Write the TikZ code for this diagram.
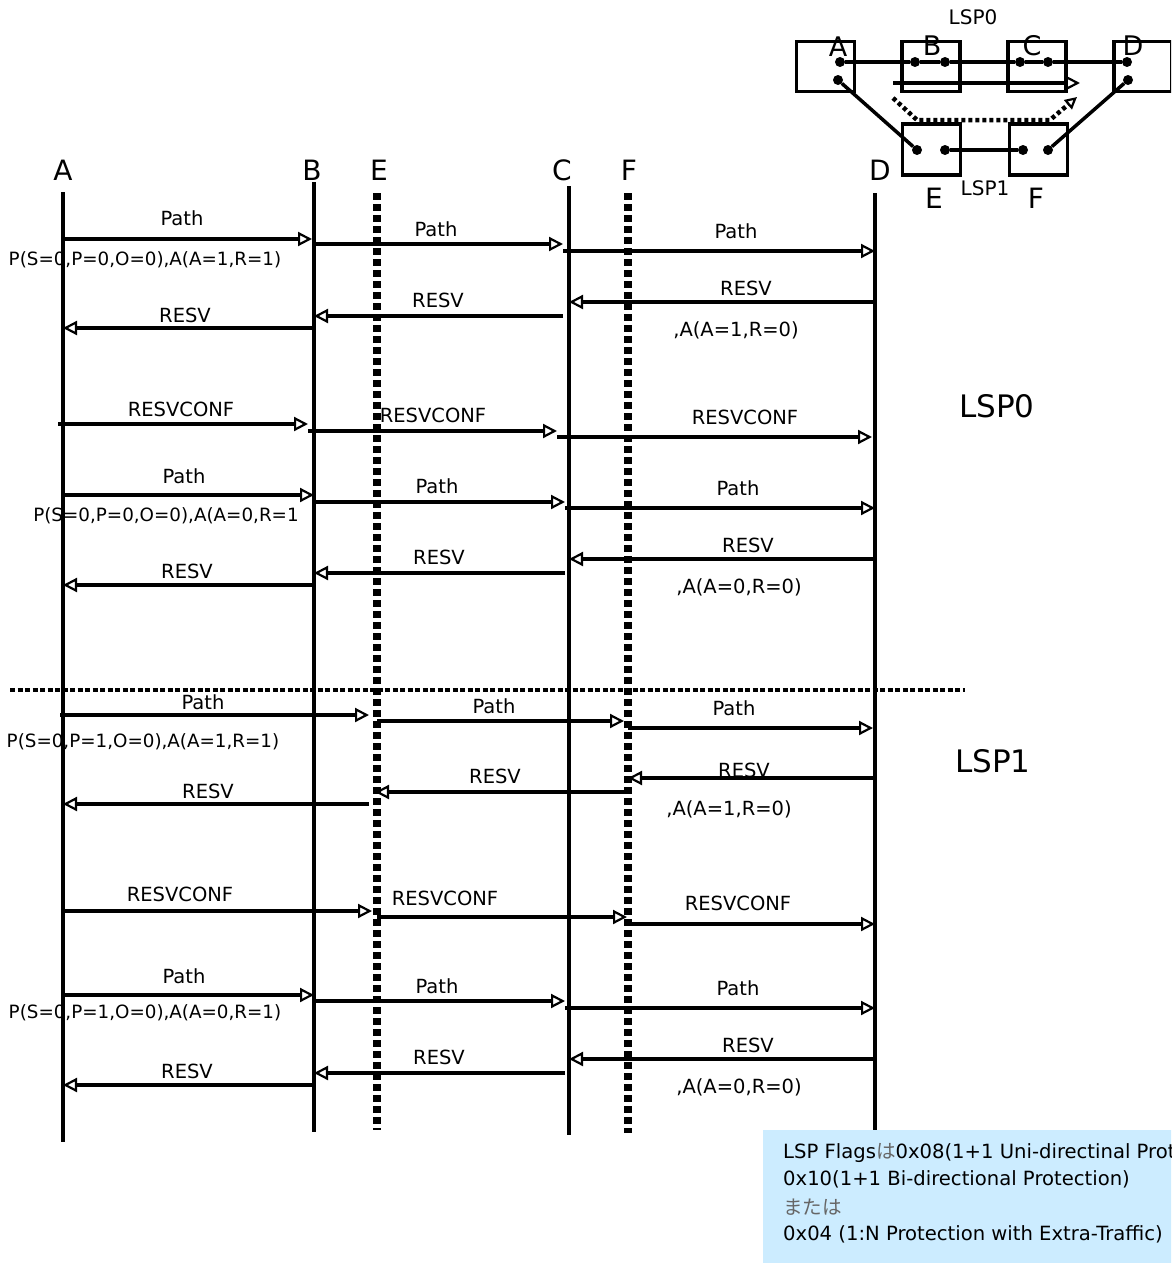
\documentclass[tikz,border=0pt]{standalone}
\usepackage{fontspec}
\setmainfont{DejaVu Sans}
\newfontfamily\jpfont{Noto Sans CJK JP}
\usetikzlibrary{arrows.meta,calc}
\definecolor{boxblue}{RGB}{204,236,255}
\begin{document}
\begin{tikzpicture}[x=1pt,y=-1pt,
  lbl/.style={inner sep=0pt,font=\fontsize{19.5}{22}\selectfont},
  plbl/.style={inner sep=0pt,font=\fontsize{18.3}{21}\selectfont},
  big/.style={inner sep=0pt,font=\fontsize{28}{30}\selectfont},
  lsplbl/.style={inner sep=0pt,font=\fontsize{31}{34}\selectfont},
  notetxt/.style={inner sep=0pt,anchor=west,font=\fontsize{19.6}{22}\selectfont},
  lifeline/.style={line width=4.5pt},
  dlifeline/.style={line width=8pt,dash pattern=on 7pt off 4pt},
  sepline/.style={line width=4.5pt,dash pattern=on 5pt off 2.5pt},
  msg/.style={line width=4.5pt,-{Triangle[open,length=14pt,width=14pt,line width=2.2pt]}},
  nbox/.style={draw,line width=3.5pt,minimum width=58pt,minimum height=50pt,inner sep=0pt},
  port/.style={circle,fill,inner sep=0pt,minimum size=10pt},
  link/.style={line width=3.5pt},
  nlbl/.style={inner sep=0pt,font=\fontsize{27}{29}\selectfont},
  slbl/.style={inner sep=0pt,font=\fontsize{20}{23}\selectfont},
]
\useasboundingbox (0,0) rectangle (1171,1263);

% ---------- lifelines ----------
\coordinate (xA) at (63,0);
\coordinate (xB) at (314,0);
\coordinate (xE) at (377,0);
\coordinate (xC) at (569,0);
\coordinate (xF) at (628,0);
\coordinate (xD) at (875,0);

\node[big] (lA) at (63,170) {A};
\node[big] (lB) at (312,170) {B};
\node[big] (lE) at (379,170) {E};
\node[big] (lC) at (562,170) {C};
\node[big] (lF) at (629,170) {F};
\node[big] (lD) at (880,170) {D};

\coordinate (A0) at (63,192);  \coordinate (A1) at (63,1142);
\coordinate (B0) at (314,182); \coordinate (B1) at (314,1132);
\coordinate (E0) at (377,193); \coordinate (E1) at (377,1130);
\coordinate (C0) at (569,186); \coordinate (C1) at (569,1135);
\coordinate (F0) at (628,193); \coordinate (F1) at (628,1133);
\coordinate (D0) at (875,193); \coordinate (D1) at (875,1130);

\draw[lifeline] (A0) -- (A1);
\draw[lifeline] (B0) -- (B1);
\draw[lifeline] (C0) -- (C1);
\draw[lifeline] (D0) -- (D1);
\draw[dlifeline] (E0) -- (E1);
\draw[dlifeline] (F0) -- (F1);

% separator
\coordinate (s0) at (10,690);
\coordinate (s1) at (965,690);
\draw[sepline] (s0) -- (s1);

% ---------- LSP0 ----------
\draw[msg] ($(xA)+(0,239)$) -- ($(xB)+(-2,239)$);
\draw[msg,line width=3.5pt] ($(xB)+(0,244)$) -- ($(xC)+(-6,244)$);
\draw[msg] ($(xC)+(-6,251)$) -- ($(xD)+(0,251)$);
\draw[msg] ($(xD)+(0,302)$) -- ($(xC)+(0,302)$);
\draw[msg] ($(xC)+(-6,316)$) -- ($(xB)+(0,316)$);
\draw[msg,line width=3.5pt] ($(xB)+(0,328)$) -- ($(xA)+(0,328)$);

\node[lbl] (t1) at (182,218) {Path};
\node[lbl] (t2) at (436,229) {Path};
\node[lbl] (t3) at (736,231) {Path};
\node[lbl] (t4) at (746,288) {RESV};
\node[lbl] (t5) at (438,300) {RESV};
\node[lbl] (t6) at (185,315) {RESV};
\node[plbl] (p1) at (145,260) {P(S=0,P=0,O=0),A(A=1,R=1)};
\node[lbl] (a1) at (736,330) {,A(A=1,R=0)};

\draw[msg] ($(xA)+(-5,424)$) -- ($(xB)+(-6,424)$);
\draw[msg,line width=3.5pt] ($(xB)+(-6,431)$) -- ($(xC)+(-12,431)$);
\draw[msg] ($(xC)+(-12,437)$) -- ($(xD)+(-3,437)$);
\node[lbl] (t7) at (181,409) {RESVCONF};
\node[lbl] (t8) at (433,415) {RESVCONF};
\node[lbl] (t9) at (745,417) {RESVCONF};

\draw[msg] ($(xA)+(0,495)$) -- ($(xB)+(0,495)$);
\draw[msg,line width=3.5pt] ($(xB)+(0,502)$) -- ($(xC)+(-4,502)$);
\draw[msg,line width=3.5pt] ($(xC)+(-4,508)$) -- ($(xD)+(0,508)$);
\draw[msg] ($(xD)+(0,559)$) -- ($(xC)+(0,559)$);
\draw[msg] ($(xC)+(-4,573)$) -- ($(xB)+(0,573)$);
\draw[msg,line width=3.5pt] ($(xB)+(0,585)$) -- ($(xA)+(0,585)$);
\node[lbl] (t10) at (184,476) {Path};
\node[lbl] (t11) at (437,486) {Path};
\node[lbl] (t12) at (738,488) {Path};
\node[lbl] (t13) at (748,545) {RESV};
\node[lbl] (t14) at (439,557) {RESV};
\node[lbl] (t15) at (187,571) {RESV};
\node[plbl] (p2) at (166,516) {P(S=0,P=0,O=0),A(A=0,R=1};
\node[lbl] (a2) at (739,587) {,A(A=0,R=0)};

\node[lsplbl] (lsp0) at (997,406) {LSP0};

% ---------- LSP1 ----------
\draw[msg,line width=3.5pt] ($(xA)+(-3,715)$) -- ($(xE)+(-8,715)$);
\draw[msg] ($(xE)+(0,721)$) -- ($(xF)+(-4,721)$);
\draw[msg,line width=3.5pt] ($(xF)+(0,728)$) -- ($(xD)+(-2,728)$);
\draw[msg] ($(xD)+(0,778)$) -- ($(xF)+(0,778)$);
\draw[msg,line width=3.5pt] ($(xF)+(0,792)$) -- ($(xE)+(-2,792)$);
\draw[msg] ($(xE)+(-8,804)$) -- ($(xA)+(0,804)$);
\node[lbl] (t16) at (203,702) {Path};
\node[lbl] (t17) at (494,706) {Path};
\node[lbl] (t18) at (734,708) {Path};
\node[lbl] (t19) at (744,770) {RESV};
\node[lbl] (t20) at (495,776) {RESV};
\node[lbl] (t21) at (208,791) {RESV};
\node[plbl] (p3) at (143,742) {P(S=0,P=1,O=0),A(A=1,R=1)};
\node[lbl] (a3) at (729,809) {,A(A=1,R=0)};

\draw[msg,line width=3.5pt] ($(xA)+(0,911)$) -- ($(xE)+(-5,911)$);
\draw[msg] ($(xE)+(0,917)$) -- ($(xF)+(-1,917)$);
\draw[msg,line width=3.5pt] ($(xF)+(0,924)$) -- ($(xD)+(0,924)$);
\node[lbl] (t22) at (180,894) {RESVCONF};
\node[lbl] (t23) at (445,898) {RESVCONF};
\node[lbl] (t24) at (738,903) {RESVCONF};

\draw[msg] ($(xA)+(0,995)$) -- ($(xB)+(0,995)$);
\draw[msg,line width=3.5pt] ($(xB)+(0,1001)$) -- ($(xC)+(-4,1001)$);
\draw[msg] ($(xC)+(-4,1008)$) -- ($(xD)+(0,1008)$);
\draw[msg] ($(xD)+(0,1059)$) -- ($(xC)+(0,1059)$);
\draw[msg] ($(xC)+(-4,1073)$) -- ($(xB)+(0,1073)$);
\draw[msg,line width=3.5pt] ($(xB)+(0,1085)$) -- ($(xA)+(0,1085)$);
\node[lbl] (t25) at (184,976) {Path};
\node[lbl] (t26) at (437,986) {Path};
\node[lbl] (t27) at (738,988) {Path};
\node[lbl] (t28) at (748,1045) {RESV};
\node[lbl] (t29) at (439,1057) {RESV};
\node[lbl] (t30) at (187,1071) {RESV};
\node[plbl] (p4) at (145,1013) {P(S=0,P=1,O=0),A(A=0,R=1)};
\node[lbl] (a4) at (739,1087) {,A(A=0,R=0)};

\node[lsplbl] (lsp1) at (993,761) {LSP1};

% ---------- network sketch ----------
\begin{scope}
\clip (0,0) rectangle (1171,1263);
\node[nbox] (bA) at (825.5,66.5) {};
\node[nbox] (bB) at (931,66.5) {};
\node[nbox] (bC) at (1037,66.5) {};
\node[nbox] (bD) at (1143,66.5) {};
\node[nbox,minimum height=51pt] (bE) at (931.5,149.5) {};
\node[nbox,minimum height=51pt] (bF) at (1038.5,149.5) {};

\node[port] (pA1) at (840,62) {};
\node[port] (pA2) at (838,80) {};
\node[port] (pB1) at (915,62) {};
\node[port] (pB2) at (945,62) {};
\node[port] (pC1) at (1020,62) {};
\node[port] (pC2) at (1048,62) {};
\node[port] (pD1) at (1127,62) {};
\node[port] (pD2) at (1128,80) {};
\node[port] (pE1) at (917,150) {};
\node[port] (pE2) at (945,150) {};
\node[port] (pF1) at (1023,150) {};
\node[port] (pF2) at (1048,150) {};

\draw[link] (pA1) -- (pB1) -- (pB2) -- (pC1) -- (pC2) -- (pD1);
\draw[link] (pA2) -- (pE1);
\draw[link] (pE2) -- (pF1);
\draw[link] (pF2) -- (pD2);

\node[nlbl] (nA) at (838,47) {A};
\node[nlbl] (nB) at (932,46) {B};
\node[nlbl] (nC) at (1032,46) {C};
\node[nlbl] (nD) at (1133,46) {D};
\node[nlbl,font=\fontsize{28}{30}\selectfont] (nE) at (934,198) {E};
\node[nlbl,font=\fontsize{28}{30}\selectfont] (nF) at (1036,198) {F};
\node[slbl] (nl0) at (973,17) {LSP0};
\node[slbl] (nl1) at (985,188) {LSP1};

\coordinate (w0) at (893,83);
\coordinate (w1) at (1080,83);
\draw[line width=4.5pt,-{Triangle[open,length=15pt,width=15pt,line width=2.2pt]}] (w0) -- (w1);
\coordinate (v0) at (893,98);
\coordinate (v1) at (917,120);
\coordinate (v2) at (1050,120);
\coordinate (v3) at (1077,97);
\draw[line width=4.5pt,dash pattern=on 4pt off 3pt,-{Triangle[open,length=12pt,width=12pt,line width=2.2pt]}] (v0) -- (v1) -- (v2) -- (v3);

% ---------- note ----------
\node[fill=boxblue,anchor=north west,minimum width=410pt,minimum height=133pt,inner sep=0pt] (note) at (763,1130) {};
\node[notetxt] (n1) at (783,1153) {LSP Flags\textcolor{black!60}{\jpfont は}0x08(1+1 Uni-directinal Protection)};
\node[notetxt] (n2) at (783,1179) {0x10(1+1 Bi-directional Protection)};
\node[notetxt,text=black!60] (n3) at (783,1207) {\jpfont または};
\node[notetxt] (n4) at (783,1234) {0x04 (1:N Protection with Extra-Traffic)};
\end{scope}
\end{tikzpicture}
\end{document}
